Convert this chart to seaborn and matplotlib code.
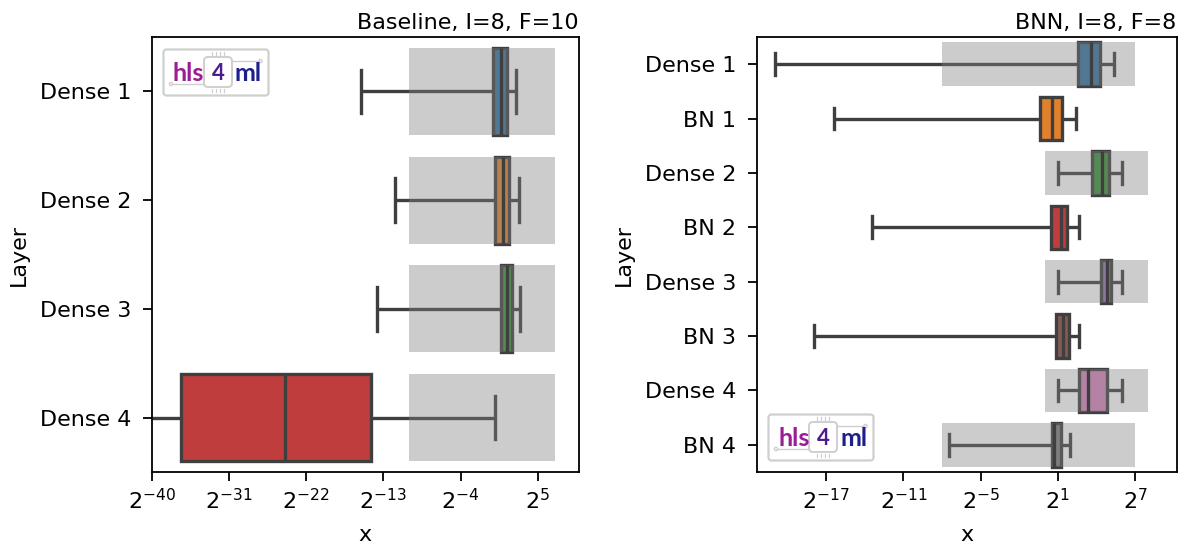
import numpy as np
import pandas as pd
import matplotlib.pyplot as plt
import seaborn as sns
from matplotlib.patches import Rectangle, FancyBboxPatch, Circle
from matplotlib.ticker import LogFormatterSciNotation, FixedLocator, NullLocator

# five-number summaries per layer, in log2 units: [low whisker, q1, median, q3, high whisker]
base_layers = ['Dense 1', 'Dense 2', 'Dense 3', 'Dense 4']
base_stats = [
    [-15.6, -0.2, 0.76, 1.4, 2.47],
    [-11.65, 0.05, 0.96, 1.6, 2.78],
    [-13.75, 0.75, 1.42, 2.0, 2.98],
    [-46.0, -36.6, -24.45, -14.4, 0.06],
]
# representable range (log2) for each layer, None = no box
base_ranges = [(-10, 7), (-10, 7), (-10, 7), (-10, 7)]

bnn_layers = ['Dense 1', 'BN 1', 'Dense 2', 'BN 2', 'Dense 3', 'BN 3', 'Dense 4', 'BN 4']
bnn_stats = [
    [-20.96, 2.6, 3.56, 4.3, 5.4],
    [-16.37, -0.38, 0.53, 1.32, 2.4],
    [1.0, 3.63, 4.47, 5.0, 5.97],
    [-13.45, 0.44, 1.26, 1.7, 2.65],
    [1.0, 4.35, 4.8, 5.15, 5.97],
    [-17.93, 0.83, 1.39, 1.84, 2.68],
    [1.0, 2.64, 3.33, 4.81, 5.97],
    [-7.44, 0.52, 0.74, 1.24, 1.96],
]
bnn_ranges = [(-8, 7), None, (0, 8), None, (0, 8), None, (0, 8), (-8, 7)]

base_ticks = [-40, -31, -22, -13, -4, 5]
bnn_ticks = [-17, -11, -5, 1, 7]
base_xlim = (-40, 9.8)
bnn_xlim = (-22.4, 10.24)

plt.rcParams['font.size'] = 16
plt.rcParams['axes.linewidth'] = 1.3


def to_frame(layers, stats):
    rows = []
    for name, s in zip(layers, stats):
        for v in s:
            rows.append({'x': 2.0 ** v, 'Layer': name})
    return pd.DataFrame(rows)


def draw_panel(ax, layers, stats, ranges, ticks, xlim, title):
    df = to_frame(layers, stats)
    sns.boxplot(data=df, x='x', y='Layer', hue='Layer', palette='tab10', legend=False,
                log_scale=2, whis=(0, 100), showfliers=False, linewidth=2.4, width=0.8,
                linecolor='#3f3f3f', ax=ax)
    for i, r in enumerate(ranges):
        if r is None:
            continue
        lo, hi = 2.0 ** r[0], 2.0 ** r[1]
        ax.add_patch(Rectangle((lo, i - 0.4), hi - lo, 0.8, facecolor='grey',
                               alpha=0.4, lw=0, zorder=2.05))
    ax.set_xlim(2.0 ** xlim[0], 2.0 ** xlim[1])
    ax.xaxis.set_major_locator(FixedLocator([2.0 ** t for t in ticks]))
    ax.xaxis.set_major_formatter(LogFormatterSciNotation(base=2))
    ax.xaxis.set_minor_locator(NullLocator())
    ax.tick_params(axis='both', length=6.8, width=1.3, labelsize=16)
    ax.tick_params(axis='x', pad=5)
    ax.tick_params(axis='y', pad=8)
    ax.set_xlabel('x', fontsize=16, labelpad=8)
    ax.set_ylabel('Layer', fontsize=16, labelpad=8)
    ax.set_title(title, loc='right', fontsize=16)


def draw_logo(fig, x, y, w=108, h=49):
    W, H = 1184, 550
    lax = fig.add_axes([x / W, 1 - (y + h) / H, w / W, h / H])
    lax.set_xlim(0, w)
    lax.set_ylim(h, 0)
    lax.axis('off')
    lc = '#cfcfcf'
    lax.add_patch(FancyBboxPatch((1.5, 1.5), w - 3, h - 3, boxstyle='round,pad=0,rounding_size=3',
                                 fc='white', ec=lc, lw=1.6))
    # chip
    lax.add_patch(FancyBboxPatch((42, 9), 28, 30, boxstyle='round,pad=0,rounding_size=4',
                                 fc='white', ec=lc, lw=1.4))
    for px in [50, 54, 58, 62]:
        lax.plot([px, px], [4, 7.5], color=lc, lw=0.9)
        lax.plot([px, px], [40.5, 44], color=lc, lw=0.9)
    lax.plot([10, 42], [36, 36], color=lc, lw=1.0)
    lax.plot([70, 97], [13, 13], color=lc, lw=1.0)
    lax.add_patch(Circle((9, 36), 1.6, fc='white', ec=lc, lw=1.0))
    lax.add_patch(Circle((98.5, 13), 1.6, fc='white', ec=lc, lw=1.0))
    lax.text(11, 33, 'hls', color='#9c1c95', fontsize=18, fontweight='bold',
             family='Lato', va='baseline', ha='left')
    lax.text(56, 32, '4', color='#4b1d91', fontsize=16, fontweight='bold',
             family='Lato', va='baseline', ha='center')
    lax.text(73, 33, 'ml', color='#1c1f8e', fontsize=18, fontweight='bold',
             family='Lato', va='baseline', ha='left')


fig = plt.figure(figsize=(11.84, 5.5), dpi=100)
ax1 = fig.add_axes([151.7 / 1184, 78 / 550, 427.3 / 1184, 435 / 550])
ax2 = fig.add_axes([756.7 / 1184, 78 / 550, 420 / 1184, 435 / 550])

draw_panel(ax1, base_layers, base_stats, base_ranges, base_ticks, base_xlim, 'Baseline, I=8, F=10')
draw_panel(ax2, bnn_layers, bnn_stats, bnn_ranges, bnn_ticks, bnn_xlim, 'BNN, I=8, F=8')

draw_logo(fig, 162, 48)
draw_logo(fig, 767, 413)

fig.savefig('out.png', dpi=100)
